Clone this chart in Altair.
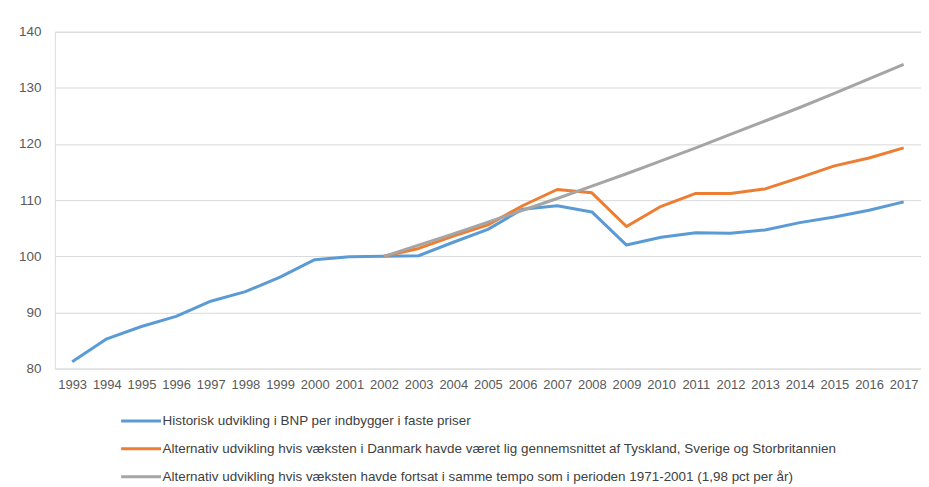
import altair as alt
import pandas as pd

years = list(range(1993, 2018))

series_names = [
    "Historisk udvikling i BNP per indbygger i faste priser",
    "Alternativ udvikling hvis væksten i Danmark havde været lig gennemsnittet af Tyskland, Sverige og Storbritannien",
    "Alternativ udvikling hvis væksten havde fortsat i samme tempo som i perioden 1971-2001 (1,98 pct per år)",
]
colors = ["#5B9BD5", "#ED7D31", "#A5A5A5"]

historisk = [81.2, 85.3, 87.5, 89.3, 92.0, 93.7, 96.3, 99.4, 99.9, 100.0,
             100.1, 102.5, 104.8, 108.4, 109.0, 107.9, 102.0, 103.4, 104.2, 104.1,
             104.7, 106.0, 107.0, 108.2, 109.7]

alt_years = list(range(2002, 2018))
alternativ_gns = [100.0, 101.4, 103.6, 105.6, 109.0, 111.9, 111.3, 105.3, 108.9, 111.2,
                  111.2, 112.0, 114.0, 116.1, 117.5, 119.3]
alternativ_trend = [100.0, 102.0, 104.0, 106.1, 108.2, 110.3, 112.5, 114.7, 117.0, 119.3,
                    121.7, 124.1, 126.5, 129.0, 131.6, 134.2]

rows = []
for y, v in zip(years, historisk):
    rows.append({"year": str(y), "value": v, "series": series_names[0], "k": 0})
for y, v in zip(alt_years, alternativ_gns):
    rows.append({"year": str(y), "value": v, "series": series_names[1], "k": 1})
for y, v in zip(alt_years, alternativ_trend):
    rows.append({"year": str(y), "value": v, "series": series_names[2], "k": 2})
df = pd.DataFrame(rows)

FONT = "Liberation Sans"

chart = alt.Chart(df).mark_line(strokeWidth=3, strokeJoin="round").encode(
    x=alt.X("year:O", scale=alt.Scale(type="point", padding=0.5, domain=[str(y) for y in years]),
            axis=alt.Axis(title=None, labelAngle=0, ticks=False, domain=False,
                          labelPadding=10, labelFontSize=13, labelColor="#595959",
                          labelFont=FONT, labelOverlap=False)),
    y=alt.Y("value:Q", scale=alt.Scale(domain=[80, 140], nice=False, zero=False),
            axis=alt.Axis(title=None, values=[80, 90, 100, 110, 120, 130, 140],
                          ticks=False, domain=False, grid=True, gridColor="#D9D9D9",
                          gridWidth=1, labelPadding=14, labelFontSize=13.5,
                          labelColor="#595959", labelFont=FONT)),
    color=alt.Color("series:N", scale=alt.Scale(domain=series_names, range=colors),
                    legend=alt.Legend(title=None, orient="none", legendX=65, legendY=369,
                                      direction="vertical", symbolType="stroke",
                                      symbolSize=1600, symbolStrokeWidth=3,
                                      labelOffset=0, labelLimit=1000, rowPadding=-12,
                                      labelFontSize=13.5, labelColor="#404040",
                                      labelFont=FONT)),
    order=alt.Order("k:Q"),
    detail="series:N",
).properties(
    width=869, height=338,
    padding={"left": 47, "top": 23, "right": 0, "bottom": 117},
    autosize=alt.AutoSizeParams(type="none"),
).configure_view(stroke=None).configure(background="white")

chart.save("out.html", embed_options={"renderer": "svg", "actions": False})
